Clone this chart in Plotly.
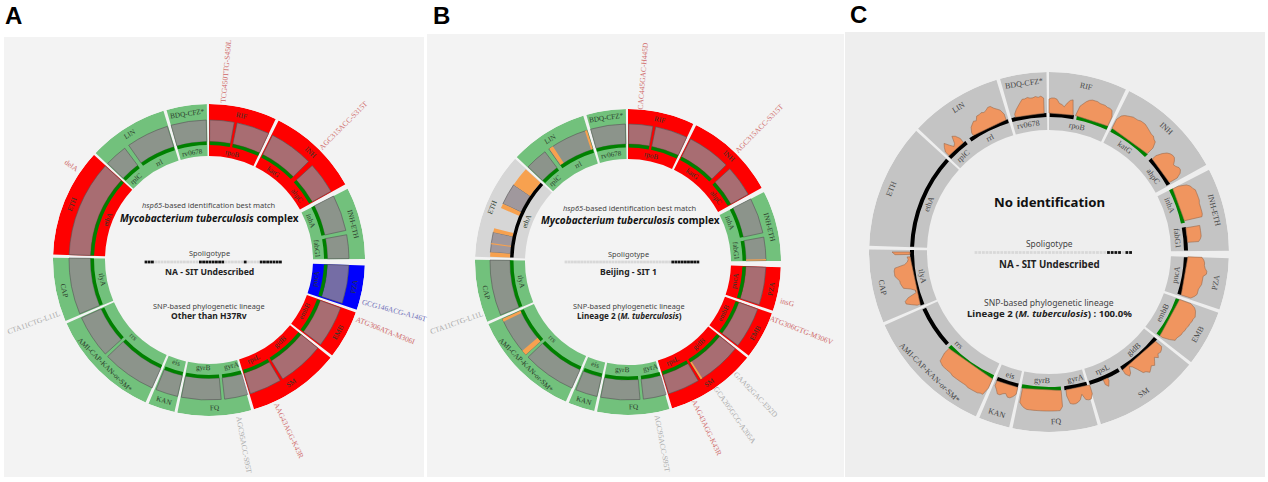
import math
import plotly.graph_objects as go

W, H = 1268, 482

# ---------- sectors (degrees clockwise from top) ----------
drugs = ["RIF", "INH", "INH-ETH", "PZA", "EMB", "SM", "FQ", "KAN", "AMI-CAP-KAN-or-SM*", "CAP", "ETH", "LIN", "BDQ-CFZ*"]
drug_start = [0.0, 26.5, 62.8, 92.0, 109.7, 128.8, 164.3, 192.8, 204.0, 247.0, 272.0, 313.3, 344.2]
drug_end = [25.3, 61.0, 89.6, 108.6, 127.8, 163.2, 191.7, 202.8, 246.0, 270.8, 312.4, 343.0, 359.2]
drug_label_theta = [12.7, 43.5, 76, 100.5, 119, 146, 177.7, 197.7, 224.8, 258, 292, 328, 351.5]

GRN, RED, BLU, LGR, CGR = "#72c17c", "#fe0000", "#0000fd", "#d6d6d6", "#c4c4c4"
drug_color_a = [RED, RED, GRN, BLU, RED, RED, GRN, GRN, GRN, GRN, RED, GRN, GRN]
drug_color_b = [RED, RED, GRN, RED, RED, RED, GRN, GRN, GRN, GRN, LGR, GRN, GRN]
drug_color_c = [CGR] * 13

# ---------- gene regions ----------
seg_start = [0.3, 11.6, 27.0, 47.5, 62.8, 79.6, 92.2, 110.0, 129.0, 149.4, 164.0, 175.0, 193.0, 204.0, 227.8, 247.4, 272.2, 313.6, 325.0, 344.3]
seg_end = [10.4, 25.2, 45.3, 60.6, 77.8, 89.4, 108.0, 127.2, 148.2, 162.8, 173.6, 191.4, 202.2, 226.4, 245.6, 270.8, 312.2, 323.0, 342.7, 358.9]
OK, NO = "#008000", "#000000"
ring_a = [OK] * 20
ring_b = [OK] * 16 + [NO] + [OK] * 3
ring_c = [NO, OK, OK, NO, OK, NO, NO, OK, NO, NO, NO, OK, NO, OK, NO, NO, NO, NO, NO, NO]

genes = ["rpoB", "katG", "ahpC", "inhA", "fabG1", "pncA", "embB", "gidB", "rpsL", "gyrA", "gyrB", "eis", "rrs", "tlyA", "ethA", "rplC", "rrl", "rv0678"]
gene_theta = [12.5, 36, 54, 69, 84, 100, 118, 139, 155.5, 168, 183, 197.5, 224.5, 259, 292, 318, 333, 351]

# ETH cells in panel B: part of ethA is uncovered
cell_skip_b = [16]
extra_cell_b_start = [274.0, 295.0]
extra_cell_b_end = [282.5, 304.0]

# orange (low coverage) slivers in panel B
low_b_start = [304.0, 293.0, 282.5, 272.2, 277.4, 325.2, 341.8, 227.8, 244.4, 147.4, 88.8]
low_b_end = [312.2, 295.0, 284.2, 274.0, 277.9, 327.0, 342.7, 230.0, 245.6, 148.2, 89.4]

# ---------- coverage depth in panel C (one value per degree, from the given start) ----------
cov_c_start = [0, 11, 27, 48, 63, 80, 92, 110, 130, 155, 163, 175, 193, 204, 248, 269, 314, 327, 346]
cov_rpoB1 = [14, 15, 15, 14, 10, 9, 7, 11, 14, 15, 0]
cov_rpoB2 = [0, 10, 13, 16, 18, 19, 19, 19, 18, 18, 18, 17, 17, 16, 10]
cov_katG = [10, 15, 17, 18, 19, 20, 20, 20, 21, 21, 21, 20, 19, 18, 17, 17, 15, 14, 8]
cov_ahpC = [5, 11, 15, 17, 18, 18, 16, 13, 14, 16, 16, 14, 9]
cov_inhA = [6, 14, 17, 18, 20, 20, 20, 20, 20, 19, 19, 19, 19, 19, 18]
cov_fabG1 = [14, 14, 14, 14, 14, 13, 11]
cov_pncA = [14, 16, 17, 17, 18, 20, 20, 17, 17, 17, 17, 16, 15, 15, 15, 13, 10]
cov_embB = [12, 17, 19, 20, 21, 20, 20, 19, 19, 18, 18, 17, 17, 16, 15, 15, 10, 3]
cov_gidB = [8, 10, 11, 10, 13, 10, 13, 16, 14, 16, 18, 15, 14, 8, 3, 1, 7, 9, 5]
cov_rpsL = [3, 8, 5]
cov_gyrA = [9, 14, 14, 13, 7, 12, 14, 15, 15, 14, 6]
cov_gyrB = [16, 20, 20, 20, 20, 20, 20, 20, 20, 20, 20, 20, 20, 20, 19, 17, 14]
cov_eis = [7, 10, 12, 12, 9, 10, 12, 12, 8, 5]
cov_rrs = [10, 18, 18, 19, 19, 19, 19, 19, 18, 18, 18, 18, 18, 18, 18, 17, 17, 17, 17, 17, 16, 15, 6]
cov_tlyA1 = [3, 8, 13, 13, 9, 0, 0, 4, 11, 12, 13, 13, 15, 17, 17, 17, 16, 6, 3, 2, 3]
cov_tlyA2 = [15, 18]
cov_rplC = [5, 9, 12, 7, 3, 5, 12, 10, 5]
cov_rrl = [3, 8, 10, 12, 11, 15, 15, 16, 15, 16, 18, 18, 15, 13, 11, 6]
cov_rv0678 = [3, 7, 10, 13, 16, 16, 17, 16, 16, 17, 16, 17, 15]
cov_c = [cov_rpoB1, cov_rpoB2, cov_katG, cov_ahpC, cov_inhA, cov_fabG1, cov_pncA, cov_embB, cov_gidB, cov_rpsL,
         cov_gyrA, cov_gyrB, cov_eis, cov_rrs, cov_tlyA1, cov_tlyA2, cov_rplC, cov_rrl, cov_rv0678]

# ---------- spoligotypes as runs of (present, count) over 43 spacers ----------
spol_a = [(1, 3), (0, 14), (1, 8), (0, 6), (1, 1), (0, 4), (1, 7)]
spol_b = [(0, 34), (1, 9)]
spol_c = [(0, 36), (1, 4), (0, 1), (1, 2)]

# ---------- mutation labels ----------
mut_a = ["TCG450TTG-S450L", "AGC315ACC-S315T", "GCG146ACG-A146T", "ATG306ATA-M306I", "AAG43AGG-K43R", "AGC95ACC-S95T", "CTA11CTG-L11L", "delA"]
mut_a_theta = [5.2, 45, 105.1, 111.8, 154.8, 169.4, 250.3, 304.4]
mut_a_r = [190, 190, 192, 190, 188, 188, 186, 167]
mut_a_col = ["r", "r", "b", "r", "r", "g", "g", "r"]
mut_b = ["CAC445GAC-H445D", "AGC315ACC-S315T", "insG", "ATG306GTG-M306V", "GAA92GAC-E92D", "GCA205GCG-A205A", "AAG43AGG-K43R", "AGC95ACC-S95T", "CTA11CTG-L11L"]
mut_b_theta = [4.6, 44.6, 104.3, 111.4, 136, 145, 154.7, 169.4, 250.4]
mut_b_r = [187, 187, 165, 187, 184, 187, 183.5, 185, 181.5]
mut_b_col = ["r", "r", "r", "r", "g", "g", "r", "g", "g"]
MUT = {"r": "#cf6a6a", "g": "#ababab", "b": "#6f6fb8"}

fig = go.Figure()
ann = []
SERIF = "Liberation Serif"
SANS = "Noto Sans"
CELL = "rgba(146,136,142,0.8)"


def xy(cx, cy, r, th):
    a = math.radians(th)
    return cx + r * math.sin(a), cy - r * math.cos(a)


def add_text(px, py, text, size, color="#222", family=SANS, angle=0):
    ann.append(dict(x=px / W, y=1 - py / H, xref="paper", yref="paper", text=text, showarrow=False,
                    textangle=angle, xanchor="center", yanchor="middle",
                    font=dict(size=size, color=color, family=family)))


def tangent(th):
    if th < 90:
        return th
    if th > 270:
        return th - 360
    return th - 180


def band(sub, starts, ends, r0, r1, color, line=None, lw=0):
    fig.add_trace(go.Barpolar(subplot=sub,
                              theta=[(a + b) / 2 for a, b in zip(starts, ends)],
                              width=[b - a for a, b in zip(starts, ends)],
                              base=[r0] * len(starts), r=[r1 - r0] * len(starts),
                              marker=dict(color=color, line=dict(color=line or "rgba(0,0,0,0)", width=lw)),
                              hoverinfo="skip", showlegend=False))


# ---------- panel A ----------
A = dict(cx=209, cy=260, R=156, r_in=104, ring0=115, ring1=118.5, c1=140)
band("polar", drug_start, drug_end, A["r_in"], A["R"], drug_color_a)
band("polar", seg_start, seg_end, A["ring1"], A["c1"], CELL, "#555555", 0.6)
band("polar", seg_start, seg_end, A["ring0"], A["ring1"], ring_a)

# ---------- panel B ----------
B = dict(cx=628, cy=262, R=153, r_in=103, ring0=114.5, ring1=118, c1=138)
cell_s = [s for i, s in enumerate(seg_start) if i not in cell_skip_b] + extra_cell_b_start
cell_e = [e for i, e in enumerate(seg_end) if i not in cell_skip_b] + extra_cell_b_end
band("polar2", drug_start, drug_end, B["r_in"], B["R"], drug_color_b)
band("polar2", cell_s, cell_e, B["ring1"], B["c1"], CELL, "#555555", 0.6)
band("polar2", low_b_start, low_b_end, B["ring1"], B["c1"], "#f7a14f")
band("polar2", seg_start, seg_end, B["ring0"], B["ring1"], ring_b)

# ---------- panel C ----------
C = dict(cx=1049, cy=252, R=180, r_in=122, ring0=135, ring1=139)
band("polar3", drug_start, drug_end, C["r_in"], C["R"], drug_color_c)
for st, vals in zip(cov_c_start, cov_c):
    th = [st + i for i in range(len(vals))]
    rr = [C["ring1"] + v for v in vals]
    fig.add_trace(go.Scatterpolar(subplot="polar3", theta=[th[0]] + th + [th[-1], th[0]],
                                  r=[C["ring1"]] + rr + [C["ring1"], C["ring1"]],
                                  mode="lines", fill="toself", fillcolor="#f0955f",
                                  line=dict(color="#9a6a4c", width=0.6),
                                  hoverinfo="skip", showlegend=False))
band("polar3", seg_start, seg_end, C["ring0"], C["ring1"], ring_c)

# ---------- spoligotype dots ----------
for (runs, x0, pitch, y) in [(spol_a, 146, 3.2, 262), (spol_b, 566, 3.14, 262), (spol_c, 976, 3.68, 252.5)]:
    present = [p for p, n in runs for _ in range(n)]
    xs = [x0 + i * pitch for i in range(len(present))]
    fig.add_trace(go.Scatter(x=xs, y=[y] * len(xs), mode="markers", xaxis="x", yaxis="y",
                             marker=dict(symbol="square", size=2.8,
                                         color=["#111111" if p else "#d8d8d8" for p in present]),
                             hoverinfo="skip", showlegend=False))

# ---------- ring labels ----------
for P, dsz, gsz, rd, rg, dcol in [(A, 7.2, 7.2, 148, 108.5, "#2a3a2a"), (B, 7.2, 7.2, 145.5, 108.5, "#2a3a2a"), (C, 8, 8, 170, 129, "#444444")]:
    for name, th in zip(drugs, drug_label_theta):
        px, py = xy(P["cx"], P["cy"], rd, th)
        add_text(px, py, name, dsz, dcol, SERIF, tangent(th))
    for name, th in zip(genes, gene_theta):
        px, py = xy(P["cx"], P["cy"], rg, th)
        add_text(px, py, name, gsz, dcol, SERIF, tangent(th))

# ---------- mutation labels ----------
for P, names, ths, rs, cols in [(A, mut_a, mut_a_theta, mut_a_r, mut_a_col), (B, mut_b, mut_b_theta, mut_b_r, mut_b_col)]:
    for n, th, r, c in zip(names, ths, rs, cols):
        px, py = xy(P["cx"], P["cy"], r, th)
        add_text(px, py, n, 7.5, MUT[c], SERIF, th - 90 if th < 180 else th - 270)

# ---------- centre text ----------
myco = "<b><i>Mycobacterium tuberculosis</i> complex</b>"
add_text(209, 205, "<i>hsp65</i>-based identification best match", 7.5, "#444")
add_text(209, 218, myco, 10, "#111")
add_text(209, 253, "Spoligotype", 7.4, "#444")
add_text(209, 272, "<b>NA - SIT Undescribed</b>", 8.6, "#222")
add_text(209, 306, "SNP-based phylogenetic lineage", 7.4, "#444")
add_text(209, 315, "<b>Other than H37Rv</b>", 8.5, "#222")

add_text(630, 208, "<i>hsp65</i>-based identification best match", 7.5, "#444")
add_text(630, 220, myco, 10, "#111")
add_text(628, 254, "Spoligotype", 7.4, "#444")
add_text(628, 272, "<b>Beijing - SIT 1</b>", 8.6, "#222")
add_text(629, 306, "SNP-based phylogenetic lineage", 7.4, "#444")
add_text(629, 315, "<b>Lineage 2 (<i>M. tuberculosis</i>)</b>", 8.1, "#222")

add_text(1049, 202, "<b>No identification</b>", 13.2, "#111")
add_text(1049, 243, "Spoligotype", 8.4, "#444")
add_text(1049, 264, "<b>NA - SIT Undescribed</b>", 9.7, "#222")
add_text(1049, 303, "SNP-based phylogenetic lineage", 8.6, "#444")
add_text(1049, 313, "<b>Lineage 2 (<i>M. tuberculosis</i>) : 100.0%</b>", 9.6, "#222")

# ---------- panel letters ----------
add_text(13, 15, "<b>A</b>", 24, "#000", "Liberation Sans")
add_text(441, 15, "<b>B</b>", 24, "#000", "Liberation Sans")
add_text(858, 14, "<b>C</b>", 24, "#000", "Liberation Sans")

shapes = [
    dict(type="rect", xref="paper", yref="paper", x0=x0 / W, x1=x1 / W, y0=1 - y1 / H, y1=1 - y0 / H,
         fillcolor=c, line=dict(width=0), layer="below")
    for x0, x1, y0, y1, c in [(4, 424, 37, 477, "#f3f3f3"), (427, 844, 34, 477, "#f3f3f3"), (845, 1265, 32, 477, "#eeeeee")]
]


def polar_layout(P):
    return dict(domain=dict(x=[(P["cx"] - P["R"]) / W, (P["cx"] + P["R"]) / W],
                            y=[1 - (P["cy"] + P["R"]) / H, 1 - (P["cy"] - P["R"]) / H]),
                bgcolor="rgba(0,0,0,0)", barmode="overlay", bargap=0,
                radialaxis=dict(range=[0, P["R"]], visible=False),
                angularaxis=dict(visible=False, direction="clockwise", rotation=90))


fig.update_layout(width=W, height=H, margin=dict(l=0, r=0, t=0, b=0), paper_bgcolor="white", plot_bgcolor="rgba(0,0,0,0)",
                  showlegend=False, shapes=shapes, annotations=ann,
                  polar=polar_layout(A), polar2=polar_layout(B), polar3=polar_layout(C),
                  xaxis=dict(range=[0, W], visible=False, domain=[0, 1]),
                  yaxis=dict(range=[H, 0], visible=False, domain=[0, 1]))

fig.write_html("out.html", config={"displayModeBar": False}, post_script="document.body.style.margin='0';")
